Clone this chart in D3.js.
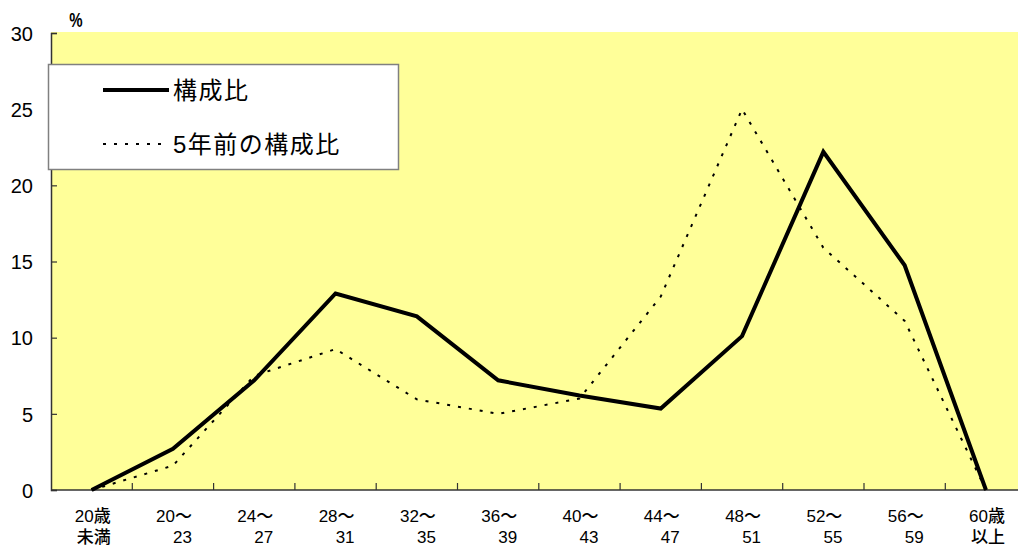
<!DOCTYPE html>
<html>
<head>
<meta charset="utf-8">
<script src="https://cdn.jsdelivr.net/npm/d3@7"></script>
<style>
  html, body { margin: 0; padding: 0; background: #ffffff; }
  svg { display: block; }
  text { font-family: "Liberation Sans", "Noto Sans CJK JP", sans-serif; fill: #000; }
</style>
</head>
<body>
<svg id="chart" width="1018" height="550"></svg>
<script>
// ---- data ----
const categories = ["20歳未満","20～23","24～27","28～31","32～35","36～39","40～43","44～47","48～51","52～55","56～59","60歳以上"];
const labelLine1 = ["20歳","20～","24～","28～","32～","36～","40～","44～","48～","52～","56～","60歳"];
const labelLine2 = ["未満","23","27","31","35","39","43","47","51","55","59","以上"];
const current = [0, 2.7, 7.2, 12.9, 11.4, 7.2, 6.2, 5.35, 10.1, 22.2, 14.75, 0];
const fiveYearsAgo = [0, 1.6, 7.5, 9.25, 5.95, 5.0, 6.0, 12.7, 25.0, 15.9, 11.1, 0];
const yTicks = [0, 5, 10, 15, 20, 25, 30];
const seriesNames = ["構成比", "5年前の構成比"];

// ---- layout ----
const svg = d3.select("#chart");
const plotLeft = 51, plotTop = 33, plotBottom = 490, step = 81.3;

const x = d3.scaleBand().domain(categories).range([plotLeft, plotLeft + step * categories.length]);
const y = d3.scaleLinear().domain([0, 30]).range([plotBottom, plotTop]);

// plot background
svg.append("rect")
  .attr("x", plotLeft).attr("y", plotTop - 1)
  .attr("width", 1018 - plotLeft).attr("height", plotBottom - plotTop + 1)
  .attr("fill", "#FFFF99");

// y axis
const yAxis = d3.axisLeft(y).tickValues(yTicks).tickSize(-6).tickFormat(d3.format("d")).tickPadding(18);
const gy = svg.append("g").attr("transform", `translate(${plotLeft},0)`).call(yAxis);
gy.select(".domain").attr("stroke", "#333").attr("stroke-width", 1.5);
gy.selectAll(".tick line").attr("stroke", "#333").attr("stroke-width", 1.2);
gy.selectAll(".tick text").attr("font-size", 20).attr("fill", "#000")
  .attr("font-family", "Liberation Sans, sans-serif").attr("dy", "0.36em");

// x axis line
svg.append("line")
  .attr("x1", plotLeft).attr("x2", 1018)
  .attr("y1", plotBottom).attr("y2", plotBottom)
  .attr("stroke", "#333").attr("stroke-width", 1.5);

// x ticks at category boundaries
svg.append("g").selectAll("line")
  .data(categories.slice(1))
  .join("line")
  .attr("x1", d => x(d)).attr("x2", d => x(d))
  .attr("y1", plotBottom).attr("y2", plotBottom - 7)
  .attr("stroke", "#333").attr("stroke-width", 1.2);

// x labels
const xl = svg.append("g").selectAll("text")
  .data(categories)
  .join("text")
  .attr("text-anchor", "end")
  .attr("font-size", 17)
  .attr("font-weight", 500)
  .attr("font-family", "Noto Sans CJK JP, sans-serif");
xl.append("tspan")
  .attr("x", d => x(d) + x.bandwidth() / 2 + 19)
  .attr("y", 522)
  .text((d, i) => labelLine1[i]);
xl.append("tspan")
  .attr("x", d => x(d) + x.bandwidth() / 2 + 19)
  .attr("y", 543)
  .text((d, i) => labelLine2[i]);

// unit label
svg.append("text")
  .attr("transform", "translate(76,27) scale(0.75,1)")
  .attr("text-anchor", "middle")
  .attr("font-size", 20)
  .attr("font-weight", "bold")
  .attr("font-family", "Liberation Sans, sans-serif")
  .text("%");

// lines
const line = d3.line()
  .x((d, i) => x(categories[i]) + x.bandwidth() / 2)
  .y(d => y(d));

svg.append("path")
  .datum(fiveYearsAgo)
  .attr("d", line)
  .attr("fill", "none")
  .attr("stroke", "#000")
  .attr("stroke-width", 2)
  .attr("stroke-dasharray", "3,8");

svg.append("path")
  .datum(current)
  .attr("d", line)
  .attr("fill", "none")
  .attr("stroke", "#000")
  .attr("stroke-width", 4)
  .attr("stroke-linejoin", "miter");

// legend
const lg = svg.append("g");
lg.append("rect")
  .attr("x", 48.5).attr("y", 64.5)
  .attr("width", 350).attr("height", 105)
  .attr("fill", "#fff")
  .attr("stroke", "#808080").attr("stroke-width", 1.5);
lg.append("line")
  .attr("x1", 103).attr("x2", 169).attr("y1", 90).attr("y2", 90)
  .attr("stroke", "#000").attr("stroke-width", 4);
lg.append("line")
  .attr("x1", 103).attr("x2", 169).attr("y1", 144).attr("y2", 144)
  .attr("stroke", "#000").attr("stroke-width", 2).attr("stroke-dasharray", "3,8");
lg.selectAll("text.leg")
  .data(seriesNames)
  .join("text")
  .attr("class", "leg")
  .attr("x", 173)
  .attr("y", (d, i) => i === 0 ? 99 : 153)
  .attr("font-size", 24)
  .attr("letter-spacing", 1.5)
  .attr("font-family", "Noto Sans CJK JP, sans-serif")
  .text(d => d);
</script>
</body>
</html>
